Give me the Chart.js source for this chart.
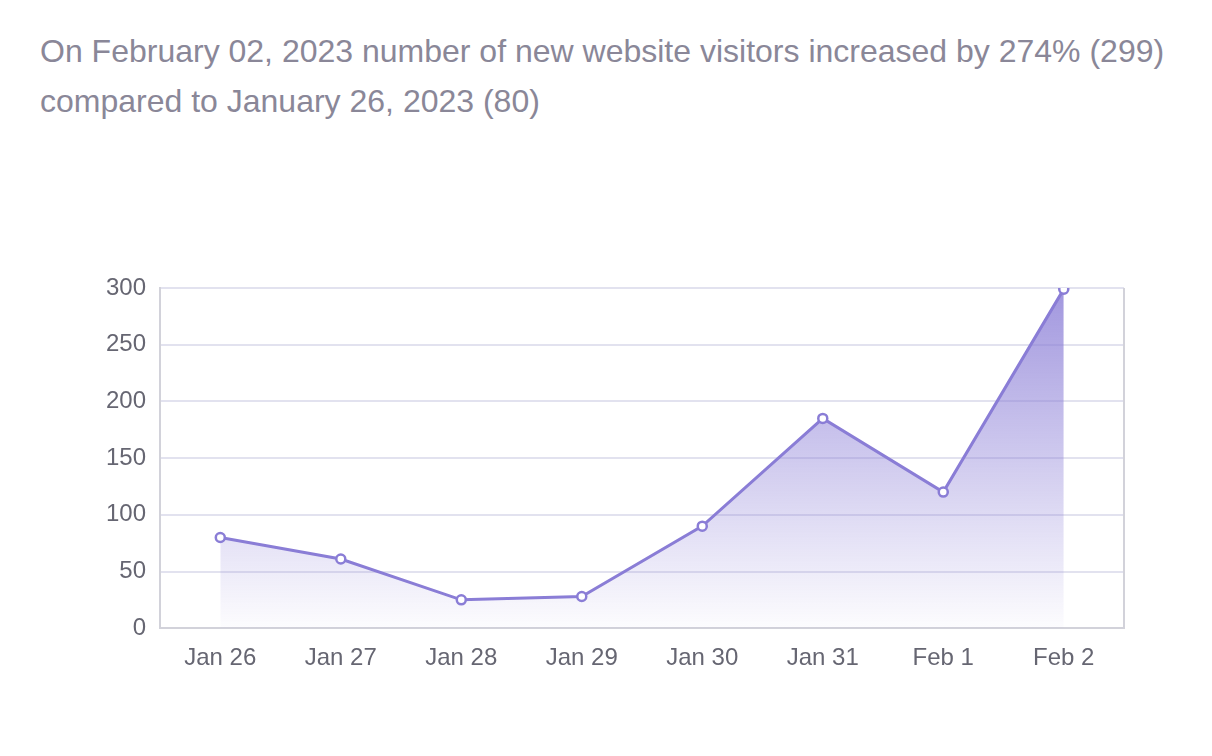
<!DOCTYPE html>
<html>
<head>
<meta charset="utf-8">
<script src="https://cdn.jsdelivr.net/npm/chart.js@4.4.0/dist/chart.umd.min.js"></script>
<style>
  html, body { margin: 0; padding: 0; background: #fff; }
  body { width: 1212px; height: 756px; position: relative; overflow: hidden; font-family: "Liberation Sans", Arial, sans-serif; }
  #title { position: absolute; left: 40px; top: 26px; width: 1170px; font-size: 32px; line-height: 50px; color: #8a8798; }
  #wrap { position: absolute; left: 0; top: 250px; width: 1212px; height: 450px; }
</style>
</head>
<body>
<div id="title">On February 02, 2023 number of new website visitors increased by 274% (299)<br>compared to January 26, 2023 (80)</div>
<div id="wrap"><canvas id="myChart"></canvas></div>
<script>
var days = ['Jan 26', 'Jan 27', 'Jan 28', 'Jan 29', 'Jan 30', 'Jan 31', 'Feb 1', 'Feb 2'];
var visitors = [80, 61, 25, 28, 90, 185, 120, 299];
var yTicks = [0, 50, 100, 150, 200, 250, 300];

var purple = '#8a7dd6';

// grey frame on the right side of the plot area
var frame = {
  id: 'frame',
  afterDraw: function (chart) {
    var a = chart.chartArea, c = chart.ctx;
    c.save();
    c.strokeStyle = '#d2d2da';
    c.lineWidth = 2;
    c.beginPath();
    c.moveTo(a.right, a.top);
    c.lineTo(a.right, a.bottom);
    c.stroke();
    c.restore();
  }
};

var ctx = document.getElementById('myChart');
var myChart = new Chart(ctx, {
  type: 'line',
  data: {
    labels: days,
    datasets: [{
      data: visitors,
      borderColor: purple,
      borderWidth: 3,
      tension: 0,
      fill: 'start',
      backgroundColor: function (context) {
        var area = context.chart.chartArea;
        if (!area) return 'rgba(138,125,214,0.3)';
        var g = context.chart.ctx.createLinearGradient(0, area.top, 0, area.bottom);
        g.addColorStop(0, 'rgba(138,125,214,0.8)');
        g.addColorStop(1, 'rgba(138,125,214,0.02)');
        return g;
      },
      pointRadius: 4.5,
      pointBorderWidth: 2.5,
      pointBackgroundColor: '#fff',
      pointBorderColor: purple
    }]
  },
  options: {
    responsive: true,
    maintainAspectRatio: false,
    animation: false,
    layout: { padding: { left: 92, right: 88, top: 38, bottom: 11 } },
    plugins: { legend: { display: false }, tooltip: { enabled: false } },
    scales: {
      x: {
        offset: true,
        grid: { display: false, drawTicks: false },
        border: { color: '#d2d2da', width: 2 },
        ticks: { color: '#666672', padding: 16, font: { family: '"Liberation Sans", Arial', size: 24 } }
      },
      y: {
        min: 0,
        max: 300,
        afterBuildTicks: function (axis) {
          axis.ticks = yTicks.map(function (v) { return { value: v }; });
        },
        grid: { color: '#e2e2ef', lineWidth: 2, drawTicks: false },
        border: { color: '#d2d2da', width: 2 },
        ticks: { color: '#666672', padding: 14, font: { family: '"Liberation Sans", Arial', size: 24 } }
      }
    }
  },
  plugins: [frame]
});
</script>
</body>
</html>
